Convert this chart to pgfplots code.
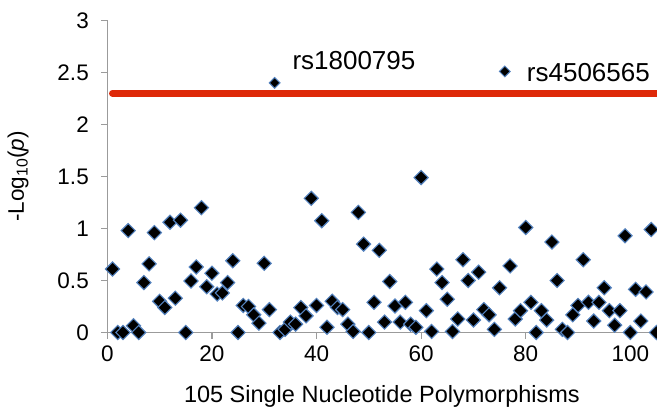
\documentclass[border=0pt]{standalone}
\usepackage{fontspec}
\setmainfont{Liberation Sans}
\usepackage{pgfplots}
\pgfplotsset{compat=1.18}
\definecolor{snpred}{RGB}{222,41,9}
\definecolor{snpedge}{RGB}{84,130,190}
\definecolor{axgray}{RGB}{155,155,155}

\begin{document}
\begin{tikzpicture}
% page size fixed to the reference frame (1pt = 1px)
\useasboundingbox (-107.3pt,-74.5pt) rectangle (549.7pt,332.5pt);
\begin{axis}[
  at={(0pt,0pt)}, anchor=south west,
  scale only axis, width=549.2pt, height=312pt,
  xmin=0, xmax=105, ymin=0, ymax=3,
  axis x line=bottom, axis y line=left,
  axis line style={-, axgray, line width=1.2pt},
  tick style={axgray, line width=1.2pt},
  tick align=outside, major tick length=6pt,
  xtick={0,20,40,60,80,100}, ytick={0,0.5,1,1.5,2,2.5,3},
  ticklabel style={font=\fontsize{22.5}{27}\selectfont},
  yticklabel style={xshift=-9pt},
  xticklabel style={yshift=-4pt},
  /pgf/number format/assume math mode=true,
  clip=false,
  xlabel={105 Single Nucleotide Polymorphisms},
  ylabel={-Log\textsubscript{10}(\textit{p})},
  every axis x label/.style={at={(axis description cs:0.5,-0.205)}, anchor=center, font=\fontsize{23.5}{28}\selectfont},
  every axis y label/.style={at={(axis description cs:-0.1626,0.5)}, rotate=90, anchor=center, font=\fontsize{22.5}{27}\selectfont},
]
% significance threshold
\addplot[snpred, line width=7pt, line cap=round, forget plot] coordinates {(1,2.3) (105,2.3)};

% all SNPs
\addplot[only marks, mark=square*, mark size=5pt,
  mark options={rotate=45, fill=black, draw=snpedge, line width=1.1pt}] table {
x y
1 0.61
2 0
3 0
4 0.98
5 0.065
6 0
7 0.48
8 0.66
9 0.96
10 0.30
11 0.24
12 1.06
13 0.33
14 1.08
15 0
16 0.495
17 0.63
18 1.20
19 0.44
20 0.57
21 0.37
22 0.38
23 0.48
24 0.69
25 0
26 0.26
27 0.25
28 0.17
29 0.09
30 0.665
31 0.22
33 0
34 0.03
35 0.10
36 0.08
37 0.24
38 0.16
39 1.29
40 0.26
41 1.075
42 0.05
43 0.30
44 0.24
45 0.22
46 0.08
47 0.01
48 1.155
49 0.85
50 0
51 0.29
52 0.79
53 0.10
54 0.49
55 0.255
56 0.10
57 0.29
58 0.08
59 0.05
60 1.49
61 0.21
62 0.01
63 0.61
64 0.48
65 0.32
66 0.01
67 0.13
68 0.70
69 0.50
70 0.12
71 0.58
72 0.22
73 0.17
74 0.03
75 0.43
77 0.64
78 0.13
79 0.21
80 1.01
81 0.29
82 0
83 0.21
84 0.12
85 0.87
86 0.50
87 0.03
88 0
89 0.17
90 0.26
91 0.70
92 0.29
93 0.11
94 0.29
95 0.43
96 0.21
97 0.07
98 0.21
99 0.93
100 0
101 0.415
102 0.11
103 0.39
104 0.99
105 0
};

% labelled SNPs
\addplot[only marks, mark=square*, mark size=3.8pt,
  mark options={rotate=45, fill=black, draw=snpedge, line width=1pt}] coordinates {(32,2.40) (76,2.51)};

\node[anchor=base west, inner sep=0pt, font=\fontsize{26}{31}\selectfont] at (axis cs:35.37,2.531) {rs1800795};
\node[anchor=base west, inner sep=0pt, font=\fontsize{26}{31}\selectfont] at (axis cs:80.19,2.411) {rs4506565};
\end{axis}
\end{tikzpicture}
\end{document}
